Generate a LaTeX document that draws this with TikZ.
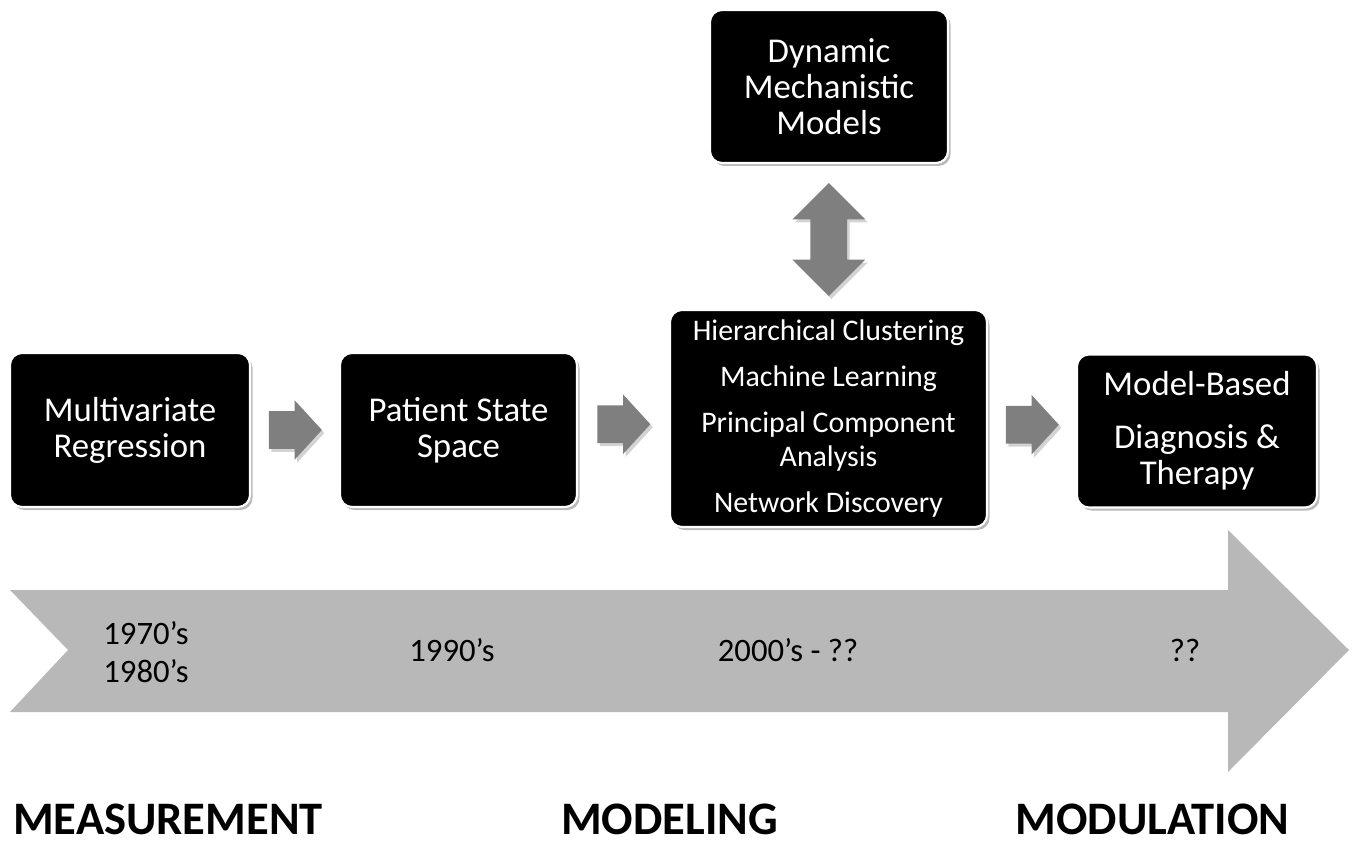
\documentclass[tikz,border=0pt]{standalone}
\usepackage{fontspec}
\setmainfont{Carlito}
\usetikzlibrary{calc,shapes.arrows,shadows}

\definecolor{timegray}{HTML}{B8B8B8}
\definecolor{arrowgray}{HTML}{7F7F7F}

\tikzset{
	stagebox/.style={draw=white, line width=1.2pt, fill=black, rounded corners=0.24cm,
		text=white, align=center, inner sep=0pt,
		drop shadow={shadow xshift=0.05cm, shadow yshift=-0.06cm, opacity=0.45, fill=black!60},
		font=\fontsize{19.8}{20.5}\selectfont},
	stagearrow/.style={single arrow, fill=arrowgray, inner xsep=0pt, inner ysep=0.37cm,
		minimum height=1.06cm, minimum width=1.18cm, anchor=tail,
		single arrow head extend=0.22cm, single arrow tip angle=95,
		drop shadow={shadow xshift=0.05cm, shadow yshift=-0.06cm, opacity=0.35}},
	yearlabel/.style={align=center, font=\fontsize{18.6}{21.5}\selectfont},
	phaselabel/.style={anchor=base, inner sep=0pt, font=\fontsize{26.5}{30}\selectfont\bfseries}
}

\begin{document}
\begin{tikzpicture}
			%%%%% START %%%%%
			\useasboundingbox (0, 0) rectangle (27.14, 16.88);
			
			% time line
			\fill[timegray] (0.2, 5.08) -- (24.56, 5.08) -- (24.56, 6.28) -- (26.98, 3.88)
				-- (24.56, 1.44) -- (24.56, 2.64) -- (0.2, 2.64) -- (1.36, 3.88) -- cycle;
			
			\node[yearlabel] (y70) at (2.92, 3.84) {1970’s\\1980’s};
			\node[yearlabel] (y90) at (9.04, 3.88) {1990’s};
			\node[yearlabel] (y00) at (15.76, 3.88) {2000’s - ??};
			\node[yearlabel] (ynext) at (23.7, 3.88) {??};
			
			% stages
			\node[stagebox, minimum width=4.8cm, minimum height=3.08cm] (multivar) at (2.6, 8.28)
				{Multivariate\\Regression};
			\node[stagebox, minimum width=4.74cm, minimum height=3.08cm] (statespace) at (9.17, 8.28)
				{Patient State\\Space};
			\node[stagebox, minimum width=6.34cm, minimum height=4.34cm,
				font=\fontsize{17}{18.8}\selectfont] (learning) at (16.57, 8.51)
				{Hierarchical Clustering\\[7.4pt] Machine Learning\\[7.4pt] Principal Component\\Analysis\\[7.4pt] Network Discovery};
			\node[stagebox, minimum width=4.8cm, minimum height=3.06cm] (therapy) at (23.94, 8.26)
				{Model-Based\\[9.7pt] Diagnosis \&\\Therapy};
			\node[stagebox, minimum width=4.76cm, minimum height=3.06cm] (mechanistic) at (16.58, 15.15)
				{Dynamic\\Mechanistic\\Models};
			
			% block arrows between the stages
			\node[stagearrow] (a1) at ($(multivar.east)!0.5!(statespace.west)+(-0.53, 0)$) {};
			\node[stagearrow] (a2) at ($(statespace.east)!0.5!(learning.west)+(-0.53, 0)$) {};
			\node[stagearrow] (a3) at ($(learning.east)!0.5!(therapy.west)+(-0.53, 0)$) {};
			\node[double arrow, fill=arrowgray, inner sep=0.36cm, shape border rotate=90,
				minimum height=2.26cm, minimum width=1.44cm,
				double arrow head extend=0.36cm, double arrow tip angle=90,
				drop shadow={shadow xshift=0.05cm, shadow yshift=-0.06cm, opacity=0.35}]
				(a4) at ($(mechanistic.south)!0.5!(learning.north)+(0, -0.06)$) {};
			
			% phases
			\node[phaselabel] (measure) at (3.36, 0.2) {MEASUREMENT};
			\node[phaselabel] (model) at (13.39, 0.2) {MODELING};
			\node[phaselabel] (modul) at (23.05, 0.2) {MODULATION};
			
			%%%%% END %%%%%
		\end{tikzpicture}
\end{document}
